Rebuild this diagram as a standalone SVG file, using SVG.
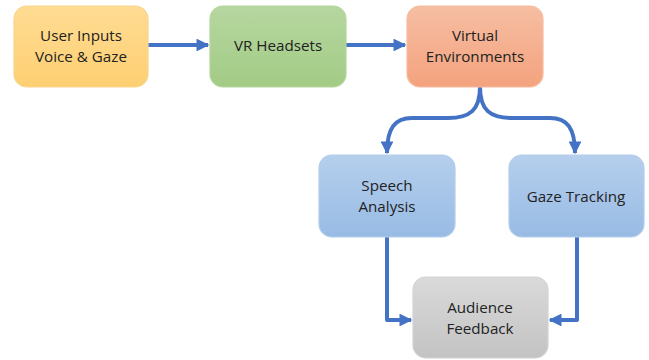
<svg xmlns="http://www.w3.org/2000/svg" width="649" height="360" viewBox="0 0 649 360">
  <style>
    .box { stroke-width: 1.2; }
    .lbl { font-family: "Open Sans", "Liberation Sans", sans-serif; font-size: 15.2px; fill: #222; text-anchor: middle; }
    .wire { fill: none; stroke: #4472C4; stroke-width: 4; stroke-linejoin: round; }
  </style>
  <defs>
    <linearGradient id="gOrange" x1="0" y1="0" x2="0" y2="1">
      <stop offset="0" stop-color="#FFDC93"/><stop offset="1" stop-color="#FECF72"/>
    </linearGradient>
    <linearGradient id="gGreen" x1="0" y1="0" x2="0" y2="1">
      <stop offset="0" stop-color="#B6D7A0"/><stop offset="1" stop-color="#A2CB85"/>
    </linearGradient>
    <linearGradient id="gSalmon" x1="0" y1="0" x2="0" y2="1">
      <stop offset="0" stop-color="#F6BEA3"/><stop offset="1" stop-color="#F4A27E"/>
    </linearGradient>
    <linearGradient id="gBlue" x1="0" y1="0" x2="0" y2="1">
      <stop offset="0" stop-color="#B5CFEC"/><stop offset="1" stop-color="#98BBE5"/>
    </linearGradient>
    <linearGradient id="gGray" x1="0" y1="0" x2="0" y2="1">
      <stop offset="0" stop-color="#DADADA"/><stop offset="1" stop-color="#C3C3C3"/>
    </linearGradient>
    <marker id="arrow" viewBox="0 0 10 10" refX="9" refY="5" markerWidth="3.2" markerHeight="3.2" orient="auto" markerUnits="strokeWidth">
      <path d="M0,0 L10,5 L0,10 Z" fill="#4472C4"/>
    </marker>
  </defs>

  <g id="connectors">
    <path class="wire" d="M148,45 L208,45" marker-end="url(#arrow)"/>
    <path class="wire" d="M346,45 L405,45" marker-end="url(#arrow)"/>
    <path class="wire" d="M480,87 C480,110 470,118 448,118 L412,118 C395,118 387,128 387,153" marker-end="url(#arrow)"/>
    <path class="wire" d="M480,87 C480,110 490,118 512,118 L550,118 C567,118 575,128 575,153" marker-end="url(#arrow)"/>
    <path class="wire" d="M387,237 L387,320 L411,320" marker-end="url(#arrow)"/>
    <path class="wire" d="M577,237 L577,320 L550,320" marker-end="url(#arrow)"/>
  </g>

  <g id="user-inputs">
    <rect class="box" x="14" y="6" width="134" height="81" rx="13" fill="url(#gOrange)" stroke="#F9D58A"/>
    <text class="lbl" x="81" y="41">User Inputs</text>
    <text class="lbl" x="81" y="62">Voice &amp; Gaze</text>
  </g>

  <g id="vr-headsets">
    <rect class="box" x="210" y="6" width="136" height="81" rx="13" fill="url(#gGreen)" stroke="#B3D69B"/>
    <text class="lbl" x="278" y="51">VR Headsets</text>
  </g>

  <g id="virtual-environments">
    <rect class="box" x="407" y="6" width="136" height="81" rx="13" fill="url(#gSalmon)" stroke="#F6BCA0"/>
    <text class="lbl" x="475" y="41">Virtual</text>
    <text class="lbl" x="475" y="62">Environments</text>
  </g>

  <g id="speech-analysis">
    <rect class="box" x="319" y="155" width="136" height="82" rx="13" fill="url(#gBlue)" stroke="#B3CDEB"/>
    <text class="lbl" x="387" y="191">Speech</text>
    <text class="lbl" x="387" y="212">Analysis</text>
  </g>

  <g id="gaze-tracking">
    <rect class="box" x="509" y="155" width="135" height="82" rx="13" fill="url(#gBlue)" stroke="#B3CDEB"/>
    <text class="lbl" x="576" y="202">Gaze Tracking</text>
  </g>

  <g id="audience-feedback">
    <rect class="box" x="413" y="277" width="135" height="81" rx="13" fill="url(#gGray)" stroke="#D2D2D2"/>
    <text class="lbl" x="480" y="313">Audience</text>
    <text class="lbl" x="480" y="334">Feedback</text>
  </g>
</svg>
